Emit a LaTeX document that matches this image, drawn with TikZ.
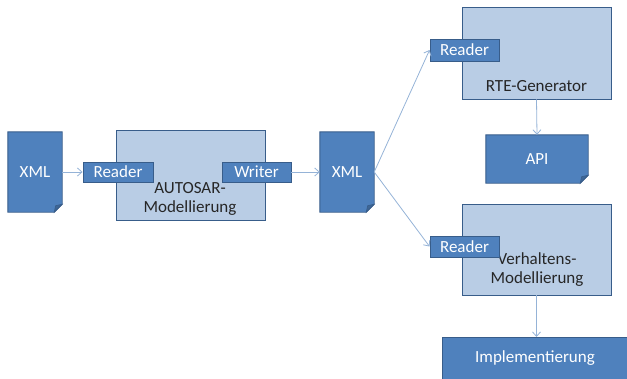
\documentclass[tikz,border=0pt]{standalone}
\usepackage{fontspec}
\setmainfont{Carlito}
\usetikzlibrary{arrows.meta,backgrounds}
\definecolor{dk}{HTML}{4F81BD}
\definecolor{dkb}{HTML}{385D8A}
\definecolor{lt}{HTML}{B9CDE5}
\definecolor{ar}{HTML}{95B3D7}
\definecolor{foldc}{HTML}{3E6696}
\definecolor{txtc}{HTML}{262626}
\tikzset{
  txt/.style={font=\fontsize{17}{20}\selectfont, inner sep=0pt},
  darkbox/.style={txt, fill=dk, draw=dkb, line width=0.9pt, text=white},
  lightbox/.style={fill=lt, draw=dkb, line width=0.9pt},
  doctext/.style={txt, text=white},
  labeltext/.style={txt, text=txtc, align=center},
  arr/.style={draw=ar, line width=0.8pt, -{Straight Barb[length=4.5pt,width=8pt]}},
}
\newcommand{\docshape}[1]{%
  \fill[dk, draw=dkb, line width=0.9pt] (#1.north west) -- (#1.north east) -- ([yshift=8pt]#1.south east) -- ([xshift=-8pt]#1.south east) -- (#1.south west) -- cycle;
  \fill[foldc, draw=dkb, line width=0.6pt] ([yshift=8pt]#1.south east) -- ([xshift=-6.5pt,yshift=6.5pt]#1.south east) -- ([xshift=-8pt]#1.south east) -- cycle;
}
\begin{document}
\begin{tikzpicture}[x=1pt,y=-1pt]
\useasboundingbox (0,0) rectangle (627,378);
% documents (text first, shape on background)
\node[doctext, minimum width=54pt, minimum height=80pt] (xmlA) at (35,172) {XML};
\node[doctext, minimum width=54pt, minimum height=80pt] (xmlB) at (347,172) {XML};
\node[doctext, minimum width=102pt, minimum height=48pt] (api) at (537,159) {API};
\begin{scope}[on background layer]
  \docshape{xmlA}
  \docshape{xmlB}
  \docshape{api}
\end{scope}
% AUTOSAR
\node[lightbox, minimum width=149pt, minimum height=90pt] (autosar) at (190.5,175) {};
\node[labeltext] (autosarlbl) at (190,199) {AUTOSAR-\\[-1pt]Modellierung};
\node[darkbox, minimum width=70pt, minimum height=20pt] (readerA) at (118,172) {Reader};
\node[darkbox, minimum width=69pt, minimum height=20pt] (writer) at (256.5,172) {Writer};
% RTE
\node[lightbox, minimum width=149pt, minimum height=92pt] (rte) at (536.5,53) {};
\node[labeltext] (rtelbl) at (536.5,86) {RTE-Generator};
\node[darkbox, minimum width=69pt, minimum height=22pt] (readerB) at (464.5,50) {Reader};
% Verhaltens
\node[lightbox, minimum width=149pt, minimum height=91pt] (verh) at (536.5,249.5) {};
\node[labeltext] (verhlbl) at (537,270) {Verhaltens-\\[-1pt]Modellierung};
\node[darkbox, minimum width=69pt, minimum height=21pt] (readerC) at (464.5,246.5) {Reader};
% Implementierung (cut off by the picture's lower and right edges)
\node[darkbox, minimum width=188pt, minimum height=48pt, text depth=0pt, anchor=north west] (impl) at (442,337) {};
\node[txt, text=white] (impllbl) at (535,358) {Implementierung};
% connectors
\draw[arr] (xmlA.east) -- (readerA.west);
\draw[arr] (writer.east) -- (xmlB.west);
\draw[arr] (xmlB.east) -- (readerB.west);
\draw[arr] (xmlB.east) -- (readerC.west);
\draw[arr] (rte.south) -- (api.north);
\draw[arr] (verh.south) -- (impl.north -| verh.south);
\end{tikzpicture}
\end{document}
